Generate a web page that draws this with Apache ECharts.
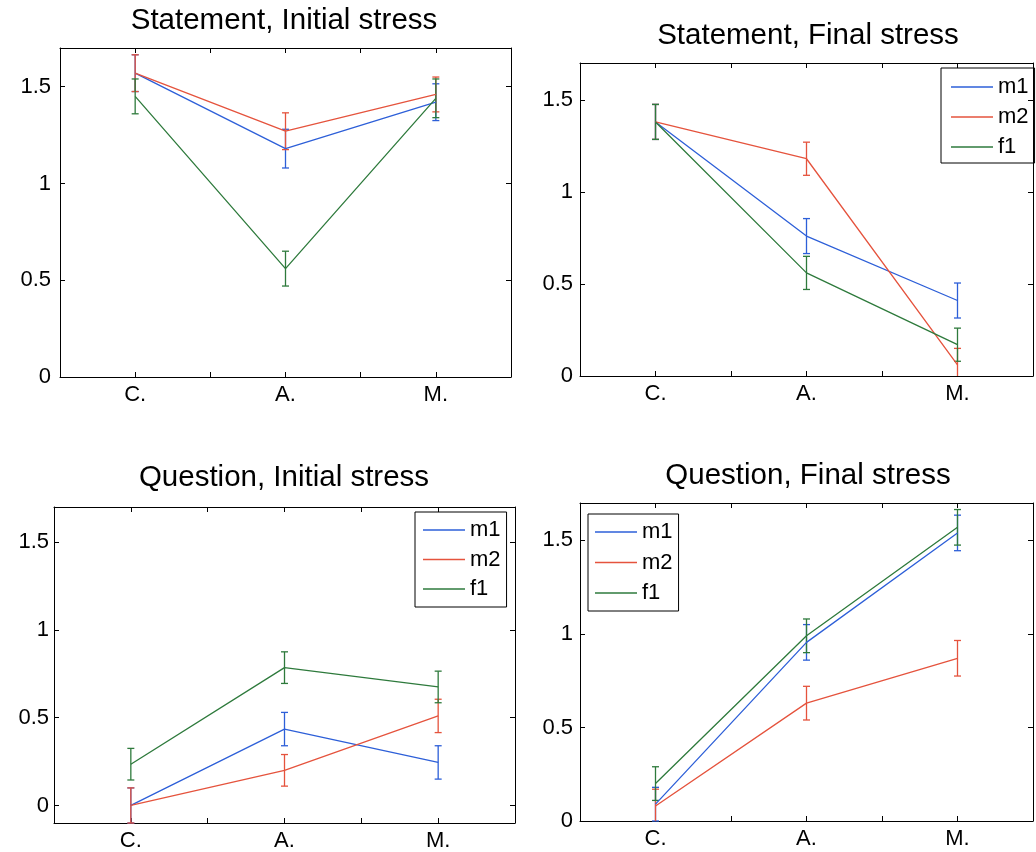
<!DOCTYPE html>
<html>
<head>
<meta charset="utf-8">
<title>Statement / Question stress</title>
<script src="https://cdn.jsdelivr.net/npm/echarts@6/dist/echarts.min.js"></script>
<style>
  html, body { margin: 0; padding: 0; background: #fff; }
  #main { width: 1036px; height: 852px; }
</style>
</head>
<body>
<div id="main"></div>
<script>
// x positions 1..3 carry these labels
const categories = ['C.', 'A.', 'M.'];
const yTicks = [0, 0.5, 1, 1.5];
const speakers = ['m1', 'm2', 'f1'];
const panelTitles = ['Statement, Initial stress', 'Statement, Final stress',
                     'Question, Initial stress', 'Question, Final stress'];

// Statement, Initial stress
const stmtInitM1 = [1.57, 1.18, 1.42];
const stmtInitM2 = [1.57, 1.27, 1.46];
const stmtInitF1 = [1.45, 0.56, 1.44];
const stmtInitM1Err = [0.095, 0.10, 0.095];
const stmtInitM2Err = [0.095, 0.095, 0.09];
const stmtInitF1Err = [0.09, 0.09, 0.10];

// Statement, Final stress
const stmtFinM1 = [1.38, 0.76, 0.41];
const stmtFinM2 = [1.38, 1.18, 0.06];
const stmtFinF1 = [1.38, 0.56, 0.17];
const stmtFinM1Err = [0.095, 0.095, 0.095];
const stmtFinM2Err = [0.095, 0.09, 0.09];
const stmtFinF1Err = [0.095, 0.09, 0.09];

// Question, Initial stress
const qInitM1 = [0.0, 0.435, 0.245];
const qInitM2 = [0.0, 0.20, 0.51];
const qInitF1 = [0.235, 0.785, 0.675];
const qInitM1Err = [0.10, 0.095, 0.095];
const qInitM2Err = [0.10, 0.09, 0.095];
const qInitF1Err = [0.09, 0.09, 0.09];

// Question, Final stress
const qFinM1 = [0.09, 0.955, 1.54];
const qFinM2 = [0.08, 0.63, 0.87];
const qFinF1 = [0.20, 0.99, 1.57];
const qFinM1Err = [0.09, 0.095, 0.095];
const qFinM2Err = [0.09, 0.09, 0.095];
const qFinF1Err = [0.09, 0.09, 0.095];

const colors = { m1: '#2d5fd8', m2: '#e5533d', f1: '#2e7a3c' };
const font = 'Liberation Sans, Arial, sans-serif';

// layout of the four panels (px)
const panels = [
  { grid: { left: 60, top: 48, width: 451, height: 329 }, yMin: 0, labelMargin: 9,
    titleX: 284, titleY: 6, legend: null,
    values: [stmtInitM1, stmtInitM2, stmtInitF1], errs: [stmtInitM1Err, stmtInitM2Err, stmtInitF1Err] },
  { grid: { left: 580, top: 63, width: 461, height: 313 }, yMin: 0, labelMargin: 7,
    titleX: 808, titleY: 21, legend: { left: 941, top: 68, gap: 8, padding: [8, 6, 5, 10] },
    values: [stmtFinM1, stmtFinM2, stmtFinF1], errs: [stmtFinM1Err, stmtFinM2Err, stmtFinF1Err] },
  { grid: { left: 54, top: 507, width: 461, height: 317 }, yMin: -0.1, labelMargin: 5,
    titleX: 284, titleY: 463, legend: { left: 415, top: 512, gap: 7.5, padding: [7, 6, 7, 8] },
    values: [qInitM1, qInitM2, qInitF1], errs: [qInitM1Err, qInitM2Err, qInitF1Err] },
  { grid: { left: 580, top: 503, width: 461, height: 318 }, yMin: 0, labelMargin: 7,
    titleX: 808, titleY: 461, legend: { left: 588, top: 514, gap: 8.5, padding: [7, 6, 7, 7] },
    values: [qFinM1, qFinM2, qFinF1], errs: [qFinM1Err, qFinM2Err, qFinF1Err] }
];

function renderErrorBar(params, api) {
  const cs = params.coordSys;
  const x = api.value(0);
  const lo = api.coord([x, api.value(1)]);
  const hi = api.coord([x, api.value(2)]);
  const bottom = cs.y + cs.height, top = cs.y;
  const style = { stroke: api.visual('color'), lineWidth: 1.3 };
  const cap = 3.5;
  const kids = [];
  let y1 = Math.min(lo[1], bottom), y2 = Math.max(hi[1], top);
  kids.push({ type: 'line', shape: { x1: lo[0], y1: y1, x2: hi[0], y2: y2 }, style: style });
  if (lo[1] <= bottom) kids.push({ type: 'line', shape: { x1: lo[0] - cap, y1: lo[1], x2: lo[0] + cap, y2: lo[1] }, style: style });
  if (hi[1] >= top) kids.push({ type: 'line', shape: { x1: hi[0] - cap, y1: hi[1], x2: hi[0] + cap, y2: hi[1] }, style: style });
  return { type: 'group', children: kids };
}

const option = {
  animation: false,
  backgroundColor: '#fff',
  textStyle: { fontFamily: font, color: '#000' },
  title: [], grid: [], xAxis: [], yAxis: [], legend: [], series: []
};

const axisLine = { show: true, onZero: false, lineStyle: { color: '#000', width: 1 } };
const tick = { show: true, inside: true, length: 5, lineStyle: { color: '#000' } };

panels.forEach(function (p, i) {
  option.title.push({
    text: panelTitles[i], left: p.titleX, top: p.titleY, textAlign: 'center', padding: 0,
    textStyle: { fontFamily: font, fontSize: 29.5, fontWeight: 'normal', color: '#000' }
  });
  option.grid.push(p.grid);

  // bottom + top x axes
  option.xAxis.push({
    type: 'value', gridIndex: i, position: 'bottom', min: 0.5, max: 3.5, interval: 0.5,
    axisLine: axisLine, axisTick: tick, splitLine: { show: false },
    axisLabel: {
      margin: 7, fontSize: 22, color: '#000', fontFamily: font,
      formatter: function (v) {
        const k = Math.round(v);
        return Math.abs(v - k) < 1e-6 && categories[k - 1] ? categories[k - 1] : '';
      }
    }
  });
  option.xAxis.push({
    type: 'value', gridIndex: i, position: 'top', min: 0.5, max: 3.5, interval: 0.5,
    axisLine: axisLine, axisTick: tick, axisLabel: { show: false }, splitLine: { show: false }
  });
  // left + right y axes
  option.yAxis.push({
    type: 'value', gridIndex: i, position: 'left', min: p.yMin, max: 1.7,
    axisLine: axisLine, splitLine: { show: false },
    axisTick: Object.assign({ customValues: yTicks }, tick),
    axisLabel: { customValues: yTicks, margin: p.labelMargin, fontSize: 22, color: '#000', fontFamily: font }
  });
  option.yAxis.push({
    type: 'value', gridIndex: i, position: 'right', min: p.yMin, max: 1.7,
    axisLine: axisLine, splitLine: { show: false },
    axisTick: Object.assign({ customValues: yTicks }, tick),
    axisLabel: { show: false }
  });

  const xi = i * 2, yi = i * 2;
  speakers.forEach(function (name, s) {
    option.series.push({
      name: name, type: 'line', xAxisIndex: xi, yAxisIndex: yi,
      symbol: 'none', color: colors[name],
      lineStyle: { width: 1.3, color: colors[name] },
      data: p.values[s].map(function (v, k) { return [k + 1, v]; })
    });
  });
  speakers.forEach(function (name, s) {
    option.series.push({
      name: name, type: 'custom', xAxisIndex: xi, yAxisIndex: yi,
      itemStyle: { color: colors[name] },
      renderItem: renderErrorBar,
      data: p.values[s].map(function (v, k) {
        return [k + 1, v - p.errs[s][k], v + p.errs[s][k]];
      })
    });
  });

  if (p.legend) {
    option.legend.push({
      data: speakers, orient: 'vertical', left: p.legend.left, top: p.legend.top,
      padding: p.legend.padding, borderColor: '#000', borderWidth: 1,
      icon: 'rect', itemWidth: 42, itemHeight: 1.5, itemGap: p.legend.gap, selectedMode: false,
      textStyle: { fontSize: 22, color: '#000', fontFamily: font }
    });
  }
});

const myChart = echarts.init(document.getElementById('main'));
myChart.setOption(option);
</script>
</body>
</html>
